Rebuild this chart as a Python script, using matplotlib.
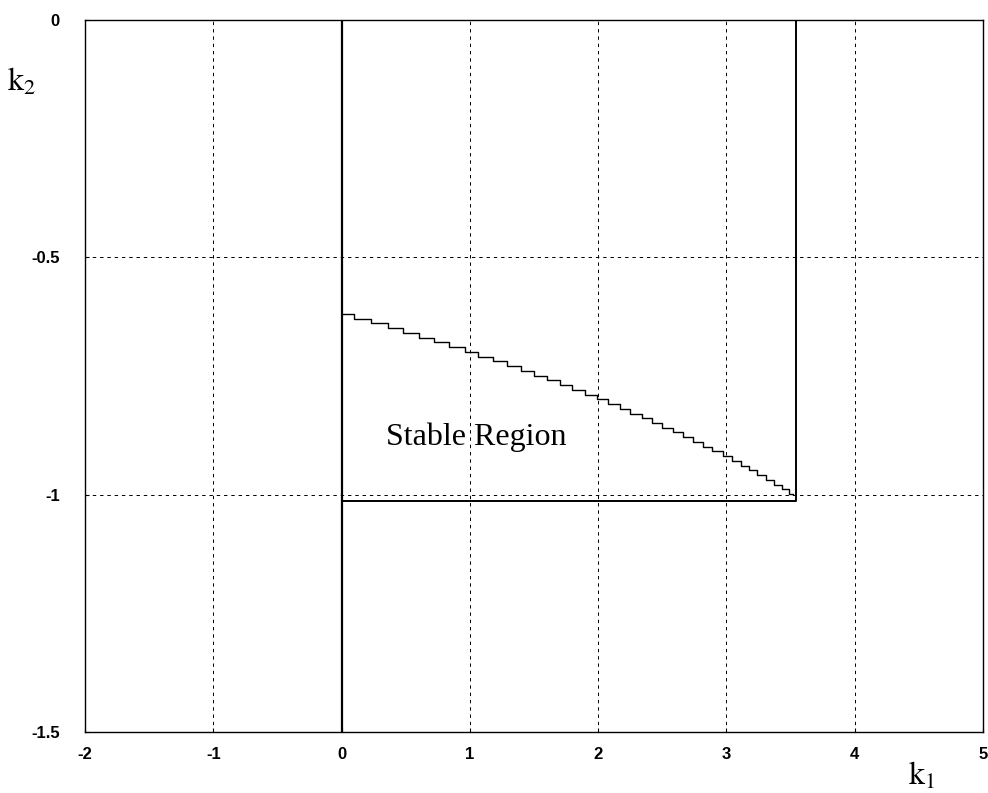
import matplotlib
matplotlib.use("Agg")
import matplotlib.pyplot as plt

plt.rcParams['mathtext.fontset'] = 'stix'

# staircase boundary: x where each k2 level begins
step_x = [0.0, 0.094, 0.23, 0.36, 0.476, 0.60, 0.72, 0.84, 0.966, 1.06, 1.18,
          1.29, 1.40, 1.50, 1.60, 1.70, 1.80, 1.90, 1.99, 2.08, 2.17, 2.25,
          2.34, 2.42, 2.50, 2.58, 2.66, 2.74, 2.82, 2.89, 2.97, 3.04, 3.11,
          3.18, 3.24, 3.31, 3.37, 3.43, 3.49, 3.52]
step_k2 = [-0.619, -0.629, -0.638, -0.648, -0.659, -0.669, -0.679, -0.689,
           -0.700, -0.710, -0.719, -0.729, -0.739, -0.749, -0.759, -0.769,
           -0.779, -0.789, -0.799, -0.809, -0.819, -0.829, -0.839, -0.849,
           -0.859, -0.869, -0.879, -0.889, -0.899, -0.909, -0.919, -0.929,
           -0.939, -0.949, -0.959, -0.969, -0.979, -0.989, -0.999, -0.999]

# outer boundary lines
left_x = [0.0, 0.0]
left_y = [0.0, -1.5]
box_x = [0.0, 3.545, 3.545]
box_y = [-1.0126, -1.0126, 0.0]

xticks = [-2, -1, 0, 1, 2, 3, 4, 5]
yticks = [-1.5, -1, -0.5, 0]
xtick_labels = ['-2', '-1', '0', '1', '2', '3', '4', '5']
ytick_labels = ['-1.5', '-1', '-0.5', '0']

fig = plt.figure(figsize=(9.88, 7.93), dpi=100)
ax = fig.add_axes([0.086, 0.0769, 0.9089, 0.8979])

ax.plot(left_x, left_y, color='black', lw=1.6)
ax.plot(box_x, box_y, color='black', lw=1.4)
ax.plot(step_x, step_k2, color='black', lw=1.0, drawstyle='steps-post')

ax.set_xlim(-2, 5)
ax.set_ylim(-1.5, 0)
ax.set_xticks(xticks)
ax.set_xticklabels(xtick_labels)
ax.set_yticks(yticks)
ax.set_yticklabels(ytick_labels)
for lab in ax.get_xticklabels() + ax.get_yticklabels():
    lab.set_fontfamily('Liberation Sans')
    lab.set_fontweight('bold')
    lab.set_fontsize(12)
ax.tick_params(direction='in', length=3, width=0.8, pad=11)
ax.tick_params(axis='y', pad=18)
ax.grid(True, color='black', lw=0.7, linestyle=(0, (3.5, 4)))
for s in ax.spines.values():
    s.set_linewidth(1.0)

fig.text(22 / 988, 1 - 82 / 793, r'$\mathrm{k}_2$', fontsize=23, ha='center', va='center')
fig.text(922 / 988, 1 - 776 / 793, r'$\mathrm{k}_1$', fontsize=23, ha='center', va='center')
ax.text(1.05, -0.88, 'Stable Region', fontsize=23, family='Liberation Serif',
        ha='center', va='center')

fig.savefig('out.png', dpi=100)
